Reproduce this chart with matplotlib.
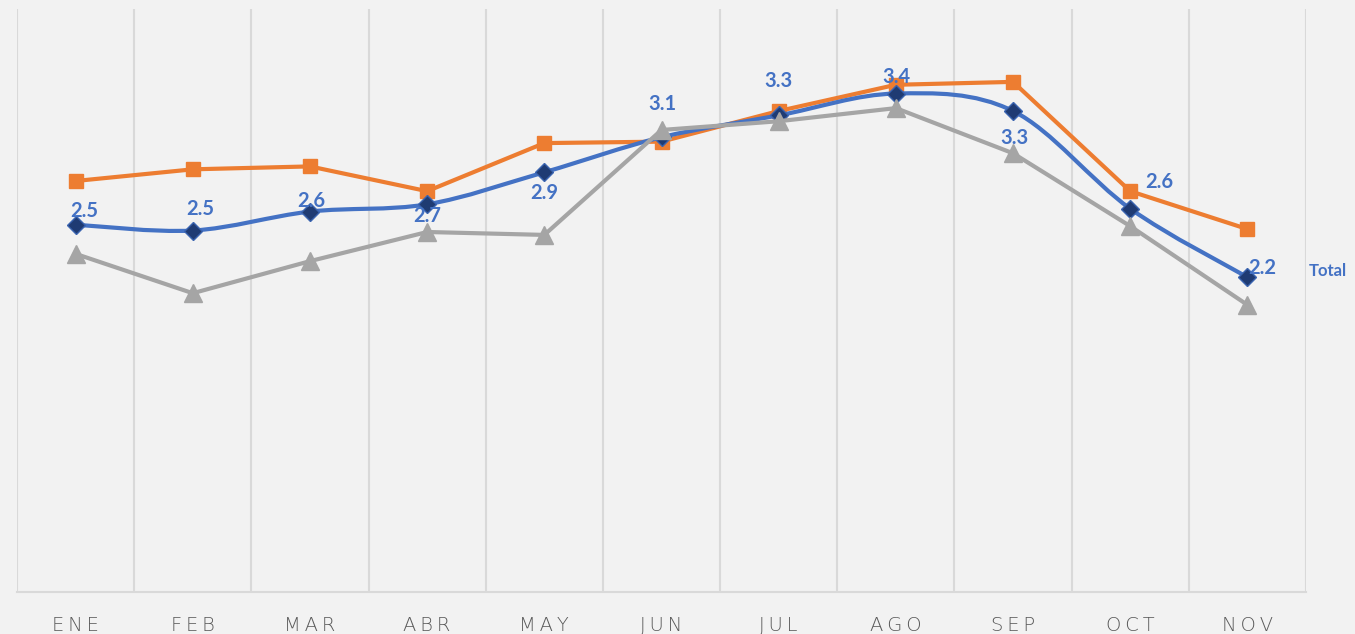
import numpy as np
import matplotlib.pyplot as plt
from matplotlib.path import Path
from matplotlib.patches import PathPatch

# data
months = ['ENE', 'FEB', 'MAR', 'ABR', 'MAY', 'JUN', 'JUL', 'AGO', 'SEP', 'OCT', 'NOV']
total = [2.52, 2.48, 2.61, 2.66, 2.88, 3.12, 3.27, 3.42, 3.30, 2.63, 2.16]
orange_vals = [2.82, 2.90, 2.92, 2.75, 3.08, 3.09, 3.30, 3.48, 3.50, 2.75, 2.49]
gray_vals = [2.32, 2.05, 2.27, 2.47, 2.45, 3.17, 3.23, 3.32, 3.01, 2.51, 1.97]

# label offsets (pixels) for the Total labels
label_off = [(9, 14), (7, 22), (1, 11), (0, -12), (0, -21), (1, 33),
             (0, 34), (1, 17), (1, -27), (29, 27), (15, 9)]

BLUE = '#4472C4'
ORANGE = '#ED7D31'
GRAY = '#A5A5A5'
BG = '#F2F2F2'

fig = plt.figure(figsize=(13.55, 6.34), dpi=100, facecolor=BG)
ax = fig.add_axes([17/1355, 42/634, 1289/1355, 583/634])
ax.set_facecolor(BG)

x = np.arange(len(months))

# orange and gray, straight lines
ax.plot(x, orange_vals, color=ORANGE, lw=3, marker='s', ms=10.5,
        markerfacecolor=ORANGE, markeredgecolor=ORANGE, zorder=3, solid_joinstyle='round')

# smoothed Total line (Catmull-Rom style bezier, like Excel smoothing)
pts = np.column_stack([x, total]).astype(float)
verts = [tuple(pts[0])]
codes = [Path.MOVETO]
n = len(pts)
for i in range(n - 1):
    p0 = pts[max(i - 1, 0)]
    p1 = pts[i]
    p2 = pts[i + 1]
    p3 = pts[min(i + 2, n - 1)]
    c1 = p1 + (p2 - p0) / 6.0
    c2 = p2 - (p3 - p1) / 6.0
    verts += [tuple(c1), tuple(c2), tuple(p2)]
    codes += [Path.CURVE4] * 3
ax.add_patch(PathPatch(Path(verts, codes), facecolor='none', edgecolor=BLUE,
                       lw=3, zorder=4, capstyle='round'))
ax.plot(x, total, ls='none', marker='D', ms=9, markerfacecolor='#1F3B73',
        markeredgecolor='#3A64B0', markeredgewidth=1, zorder=5)

ax.plot(x, gray_vals, color=GRAY, lw=3, marker='^', ms=13,
        markerfacecolor=GRAY, markeredgecolor=GRAY, zorder=6, solid_joinstyle='round')

for i, v in enumerate(total):
    dx, dy = label_off[i]
    ax.annotate(f'{v:.1f}', (x[i], v), xytext=(dx * 0.72, dy * 0.72),
                textcoords='offset points', ha='center', va='center',
                color=BLUE, fontsize=14.5, fontweight='bold', family='Lato', zorder=7)

ax.annotate('Total', (x[-1], total[-1]), xytext=(80 * 0.72, 6 * 0.72),
            textcoords='offset points', ha='center', va='center',
            color=BLUE, fontsize=12, fontweight='bold', family='Lato', annotation_clip=False)

ax.set_xlim(-0.5, len(months) - 0.5)
ax.set_ylim(0, 4)
ax.set_yticks([])
ax.set_xticks(x)
ax.set_xticklabels(['\u2009'.join(m) for m in months], color='#595959',
                   fontsize=14, family='DejaVu Sans', fontweight='light')
ax.tick_params(axis='x', length=0, pad=17)
ax.set_xticks(np.arange(-0.5, len(months)), minor=True)
ax.tick_params(axis='x', which='minor', length=0)
ax.grid(True, which='minor', axis='x', color='#D9D9D9', lw=1.5)
ax.grid(False, which='major')

for s in ['top', 'left', 'right']:
    ax.spines[s].set_visible(False)
ax.spines['bottom'].set_color('#D9D9D9')
ax.spines['bottom'].set_linewidth(1.5)

fig.savefig('out.png', dpi=100, facecolor=BG)
